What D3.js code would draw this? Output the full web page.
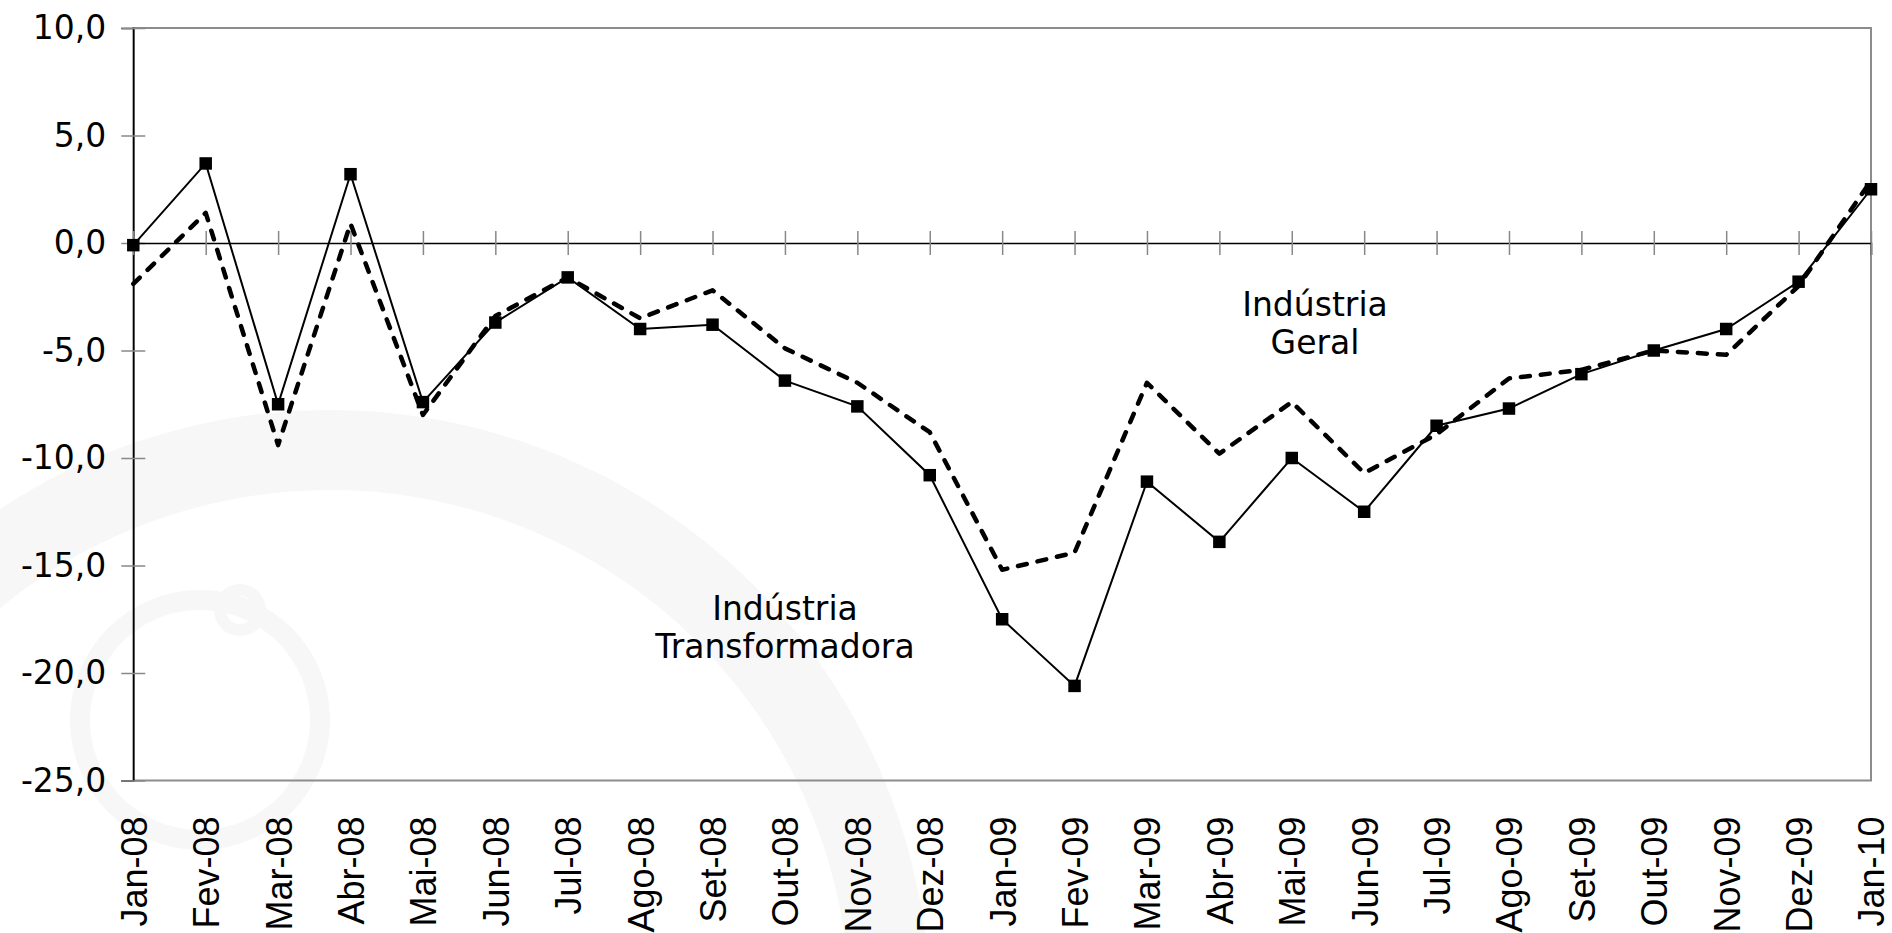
<!DOCTYPE html>
<html>
<head>
<meta charset="utf-8">
<script src="https://cdn.jsdelivr.net/npm/d3@7"></script>
<style>
  html, body { margin: 0; padding: 0; background: #fff; }
  svg { display: block; }
</style>
</head>
<body>
<div id="chart"></div>
<script>
const months = ['Jan-08', 'Fev-08', 'Mar-08', 'Abr-08', 'Mai-08', 'Jun-08', 'Jul-08', 'Ago-08', 'Set-08',
  'Out-08', 'Nov-08', 'Dez-08', 'Jan-09', 'Fev-09', 'Mar-09', 'Abr-09', 'Mai-09', 'Jun-09', 'Jul-09',
  'Ago-09', 'Set-09', 'Out-09', 'Nov-09', 'Dez-09', 'Jan-10'];

// Indústria Transformadora (solid, square markers)
const transformadora = [-0.1, 3.7, -7.5, 3.2, -7.4, -3.7, -1.6, -4.0, -3.8, -6.4, -7.6, -10.8,
  -17.5, -20.6, -11.1, -13.9, -10.0, -12.5, -8.5, -7.7, -6.1, -5.0, -4.0, -1.8, 2.5];

// Indústria Geral (dashed)
const geral = [-1.9, 1.4, -9.4, 0.9, -8.0, -3.4, -1.6, -3.5, -2.2, -4.9, -6.5, -8.8,
  -15.2, -14.4, -6.5, -9.8, -7.4, -10.7, -8.9, -6.3, -5.9, -5.0, -5.2, -2.0, 2.9];

const yTicks = [-25, -20, -15, -10, -5, 0, 5, 10];

const width = 1892;
const height = 933;
const margin = { top: 28, right: 21, bottom: 152.5, left: 133.3 };

const svg = d3.select('#chart')
  .append('svg')
  .attr('width', width)
  .attr('height', height);

// faint watermark logo behind the chart
const wm = svg.append('g').attr('fill', '#f7f7f7');
wm.append('path')
  .attr('transform', 'translate(330,1010)')
  .attr('d', d3.arc().innerRadius(520).outerRadius(600).startAngle(-Math.PI / 2 - 0.3).endAngle(Math.PI * 0.6)());
wm.append('path')
  .attr('transform', 'translate(200,720)')
  .attr('d', d3.arc().innerRadius(110).outerRadius(130).startAngle(-Math.PI).endAngle(Math.PI)());
wm.append('path')
  .attr('transform', 'translate(240,610)')
  .attr('d', d3.arc().innerRadius(14).outerRadius(26).startAngle(-Math.PI).endAngle(Math.PI)());

const x = d3.scalePoint()
  .domain(months)
  .range([margin.left, width - margin.right]);

const y = d3.scaleLinear()
  .domain([-25, 10])
  .range([height - margin.bottom, margin.top]);

const fmt = v => d3.format('.1f')(v).replace('.', ',').replace('−', '-');

// plot frame
svg.append('rect')
  .attr('x', margin.left)
  .attr('y', margin.top)
  .attr('width', width - margin.right - margin.left)
  .attr('height', y(-25) - margin.top)
  .attr('fill', 'none')
  .attr('stroke', '#8c8c8c')
  .attr('stroke-width', 2);

// y axis
const yAxis = svg.append('g')
  .attr('transform', `translate(${margin.left},0)`)
  .call(d3.axisLeft(y).tickValues(yTicks).tickSize(12).tickPadding(15).tickFormat(fmt));
yAxis.select('.domain').attr('stroke', '#000').attr('stroke-width', 1.6);
yAxis.selectAll('.tick line').attr('x1', -12).attr('x2', 12).attr('stroke', '#888').attr('stroke-width', 1.5);
yAxis.selectAll('.tick text')
  .attr('font-family', '"DejaVu Sans", Verdana, sans-serif')
  .attr('font-size', 33)
  .attr('fill', '#000');

// x axis on the zero line
const xAxis = svg.append('g')
  .attr('transform', `translate(0,${y(0)})`)
  .call(d3.axisBottom(x).tickSize(12).tickFormat(''));
xAxis.select('.domain').attr('stroke', '#000').attr('stroke-width', 1.5);
xAxis.selectAll('.tick line').attr('y1', -12).attr('y2', 12).attr('stroke', '#888').attr('stroke-width', 1.5);

// month labels along the bottom
const xLabels = svg.append('g')
  .attr('transform', `translate(0,${y(-25)})`)
  .call(d3.axisBottom(x).tickSize(0));
xLabels.select('.domain').remove();
xLabels.selectAll('.tick text')
  .attr('font-family', '"Liberation Sans", Arial, sans-serif')
  .attr('font-size', 36)
  .attr('fill', '#000')
  .attr('text-anchor', 'end')
  .attr('transform', 'rotate(-90)')
  .attr('x', -36)
  .attr('y', 0)
  .attr('dy', '0.36em');

const line = d3.line()
  .x((d, i) => x(months[i]))
  .y(d => y(d));

svg.append('path')
  .datum(transformadora)
  .attr('fill', 'none')
  .attr('stroke', '#000')
  .attr('stroke-width', 2)
  .attr('d', line);

svg.selectAll('.marker')
  .data(transformadora)
  .enter()
  .append('path')
  .attr('class', 'marker')
  .attr('transform', (d, i) => `translate(${x(months[i])},${y(d)})`)
  .attr('d', d3.symbol().type(d3.symbolSquare).size(156))
  .attr('fill', '#000');

svg.append('path')
  .datum(geral)
  .attr('fill', 'none')
  .attr('stroke', '#000')
  .attr('stroke-width', 4.5)
  .attr('stroke-dasharray', '9,11')
  .attr('stroke-linecap', 'round')
  .attr('stroke-linejoin', 'round')
  .attr('d', line);

// series annotations
const notes = [
  { lines: ['Indústria', 'Geral'], x: 1315, y: 316 },
  { lines: ['Indústria', 'Transformadora'], x: 785, y: 620 }
];

notes.forEach(n => {
  const t = svg.append('text')
    .attr('font-family', '"DejaVu Sans", Verdana, sans-serif')
    .attr('font-size', 33)
    .attr('text-anchor', 'middle')
    .attr('fill', '#000');
  n.lines.forEach((s, k) => {
    t.append('tspan').attr('x', n.x).attr('y', n.y + k * 38).text(s);
  });
});
</script>
</body>
</html>
